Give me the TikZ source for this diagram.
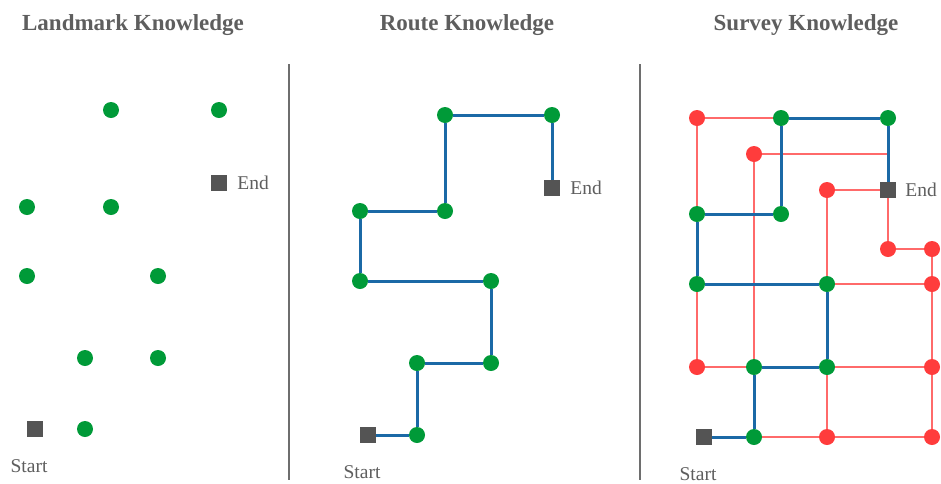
\documentclass[tikz,border=0pt]{standalone}
\usepackage{fontspec}
\setmainfont{Liberation Serif}
\definecolor{lgreen}{HTML}{009A38}
\definecolor{lblue}{HTML}{1B69A6}
\definecolor{lred}{HTML}{FF3C3C}
\definecolor{lredline}{HTML}{FF6A6A}
\definecolor{sqgray}{HTML}{545454}
\definecolor{txtgray}{HTML}{5E5E5E}
\definecolor{divgray}{HTML}{6E6E6E}
\tikzset{
  gdot/.style={circle,fill=lgreen,draw=none,minimum size=16pt,inner sep=0pt},
  rdot/.style={circle,fill=lred,draw=none,minimum size=16pt,inner sep=0pt},
  sq/.style={rectangle,fill=sqgray,draw=none,minimum size=16pt,inner sep=0pt},
  ttl/.style={text=txtgray,font=\fontsize{23}{27}\selectfont\bfseries,inner sep=0pt},
  lbl/.style={text=txtgray,font=\fontsize{19.5}{22}\selectfont,inner sep=0pt},
  route/.style={draw=lblue,line width=3pt},
  redl/.style={draw=lredline,line width=1.8pt},
  divider/.style={draw=divgray,line width=1.6pt}
}
\begin{document}
\begin{tikzpicture}[x=1pt,y=-1pt]
\useasboundingbox (0,0) rectangle (941,483);
% titles
\node[ttl] (t1) at (133,25) {Landmark Knowledge};
\node[ttl] (t2) at (467,25) {Route Knowledge};
\node[ttl] (t3) at (806,25) {Survey Knowledge};
% dividers
\coordinate (d1a) at (289,64); \coordinate (d1b) at (289,480);
\coordinate (d2a) at (640,64); \coordinate (d2b) at (640,480);
\draw[divider] (d1a) -- (d1b);
\draw[divider] (d2a) -- (d2b);

% ---------- Landmark ----------
\node[gdot] (a1) at (111,110) {};
\node[gdot] (a2) at (219,110) {};
\node[gdot] (a3) at (27,207) {};
\node[gdot] (a4) at (111,207) {};
\node[gdot] (a5) at (27,276) {};
\node[gdot] (a6) at (158,276) {};
\node[gdot] (a7) at (85,358) {};
\node[gdot] (a8) at (158,358) {};
\node[gdot] (a9) at (85,429) {};
\node[sq] (aS) at (35,429) {};
\node[sq] (aE) at (219,183) {};
\node[lbl,anchor=west] (aEl) at ([xshift=10pt]aE.east) {End};
\node[lbl] (aSl) at ([xshift=-6pt,yshift=-37pt]aS.center) {Start};

% ---------- Route ----------
\node[sq] (bS) at (368,435) {};
\node[gdot] (b1) at (417,435) {};
\node[gdot] (b2) at (417,363) {};
\node[gdot] (b3) at (491,363) {};
\node[gdot] (b4) at (491,281) {};
\node[gdot] (b5) at (360,281) {};
\node[gdot] (b6) at (360,211) {};
\node[gdot] (b7) at (445,211) {};
\node[gdot] (b8) at (445,115) {};
\node[gdot] (b9) at (552,115) {};
\node[sq] (bE) at (552,188) {};
\node[lbl,anchor=west] (bEl) at ([xshift=10pt]bE.east) {End};
\node[lbl] (bSl) at ([xshift=-6pt,yshift=-37pt]bS.center) {Start};
\draw[route] (bS) -- (b1) -- (b2) -- (b3) -- (b4) -- (b5) -- (b6) -- (b7) -- (b8) -- (b9) -- (bE);

% ---------- Survey ----------
\node[rdot] (r1) at (697,118) {};
\node[gdot] (g1) at (781,118) {};
\node[gdot] (g2) at (888,118) {};
\node[rdot] (r2) at (754,154) {};
\coordinate (c1) at (888,154);
\node[rdot] (r3) at (827,190) {};
\node[sq] (cE) at (888,190) {};
\node[gdot] (g3) at (697,214) {};
\node[gdot] (g4) at (781,214) {};
\node[rdot] (r4) at (888,249) {};
\node[rdot] (r5) at (932,249) {};
\node[gdot] (g5) at (697,284) {};
\node[gdot] (g6) at (827,284) {};
\node[rdot] (r6) at (932,284) {};
\node[rdot] (r7) at (697,367) {};
\node[gdot] (g7) at (754,367) {};
\node[gdot] (g8) at (827,367) {};
\node[rdot] (r8) at (932,367) {};
\node[sq] (cS) at (704,437) {};
\node[gdot] (g9) at (754,437) {};
\node[rdot] (r9) at (827,437) {};
\node[rdot] (r10) at (932,437) {};
\node[lbl,anchor=west] (cEl) at ([xshift=9pt]cE.east) {End};
\node[lbl] (cSl) at ([xshift=-6pt,yshift=-37pt]cS.center) {Start};
% red connections
\draw[redl] (r1) -- (g1);
\draw[redl] (r1) -- (g3);
\draw[redl] (r2) -- (c1);
\draw[redl] (r2) -- (g7);
\draw[redl] (r3) -- (cE);
\draw[redl] (r3) -- (g6);
\draw[redl] (cE) -- (r4) -- (r5) -- (r6);
\draw[redl] (g6) -- (r6) -- (r8) -- (r10);
\draw[redl] (g5) -- (r7) -- (g7);
\draw[redl] (g8) -- (r8);
\draw[redl] (g8) -- (r9);
\draw[redl] (g9) -- (r9) -- (r10);
% blue route
\draw[route] (cS) -- (g9) -- (g7) -- (g8) -- (g6) -- (g5) -- (g3) -- (g4) -- (g1) -- (g2) -- (cE);
\end{tikzpicture}
\end{document}
